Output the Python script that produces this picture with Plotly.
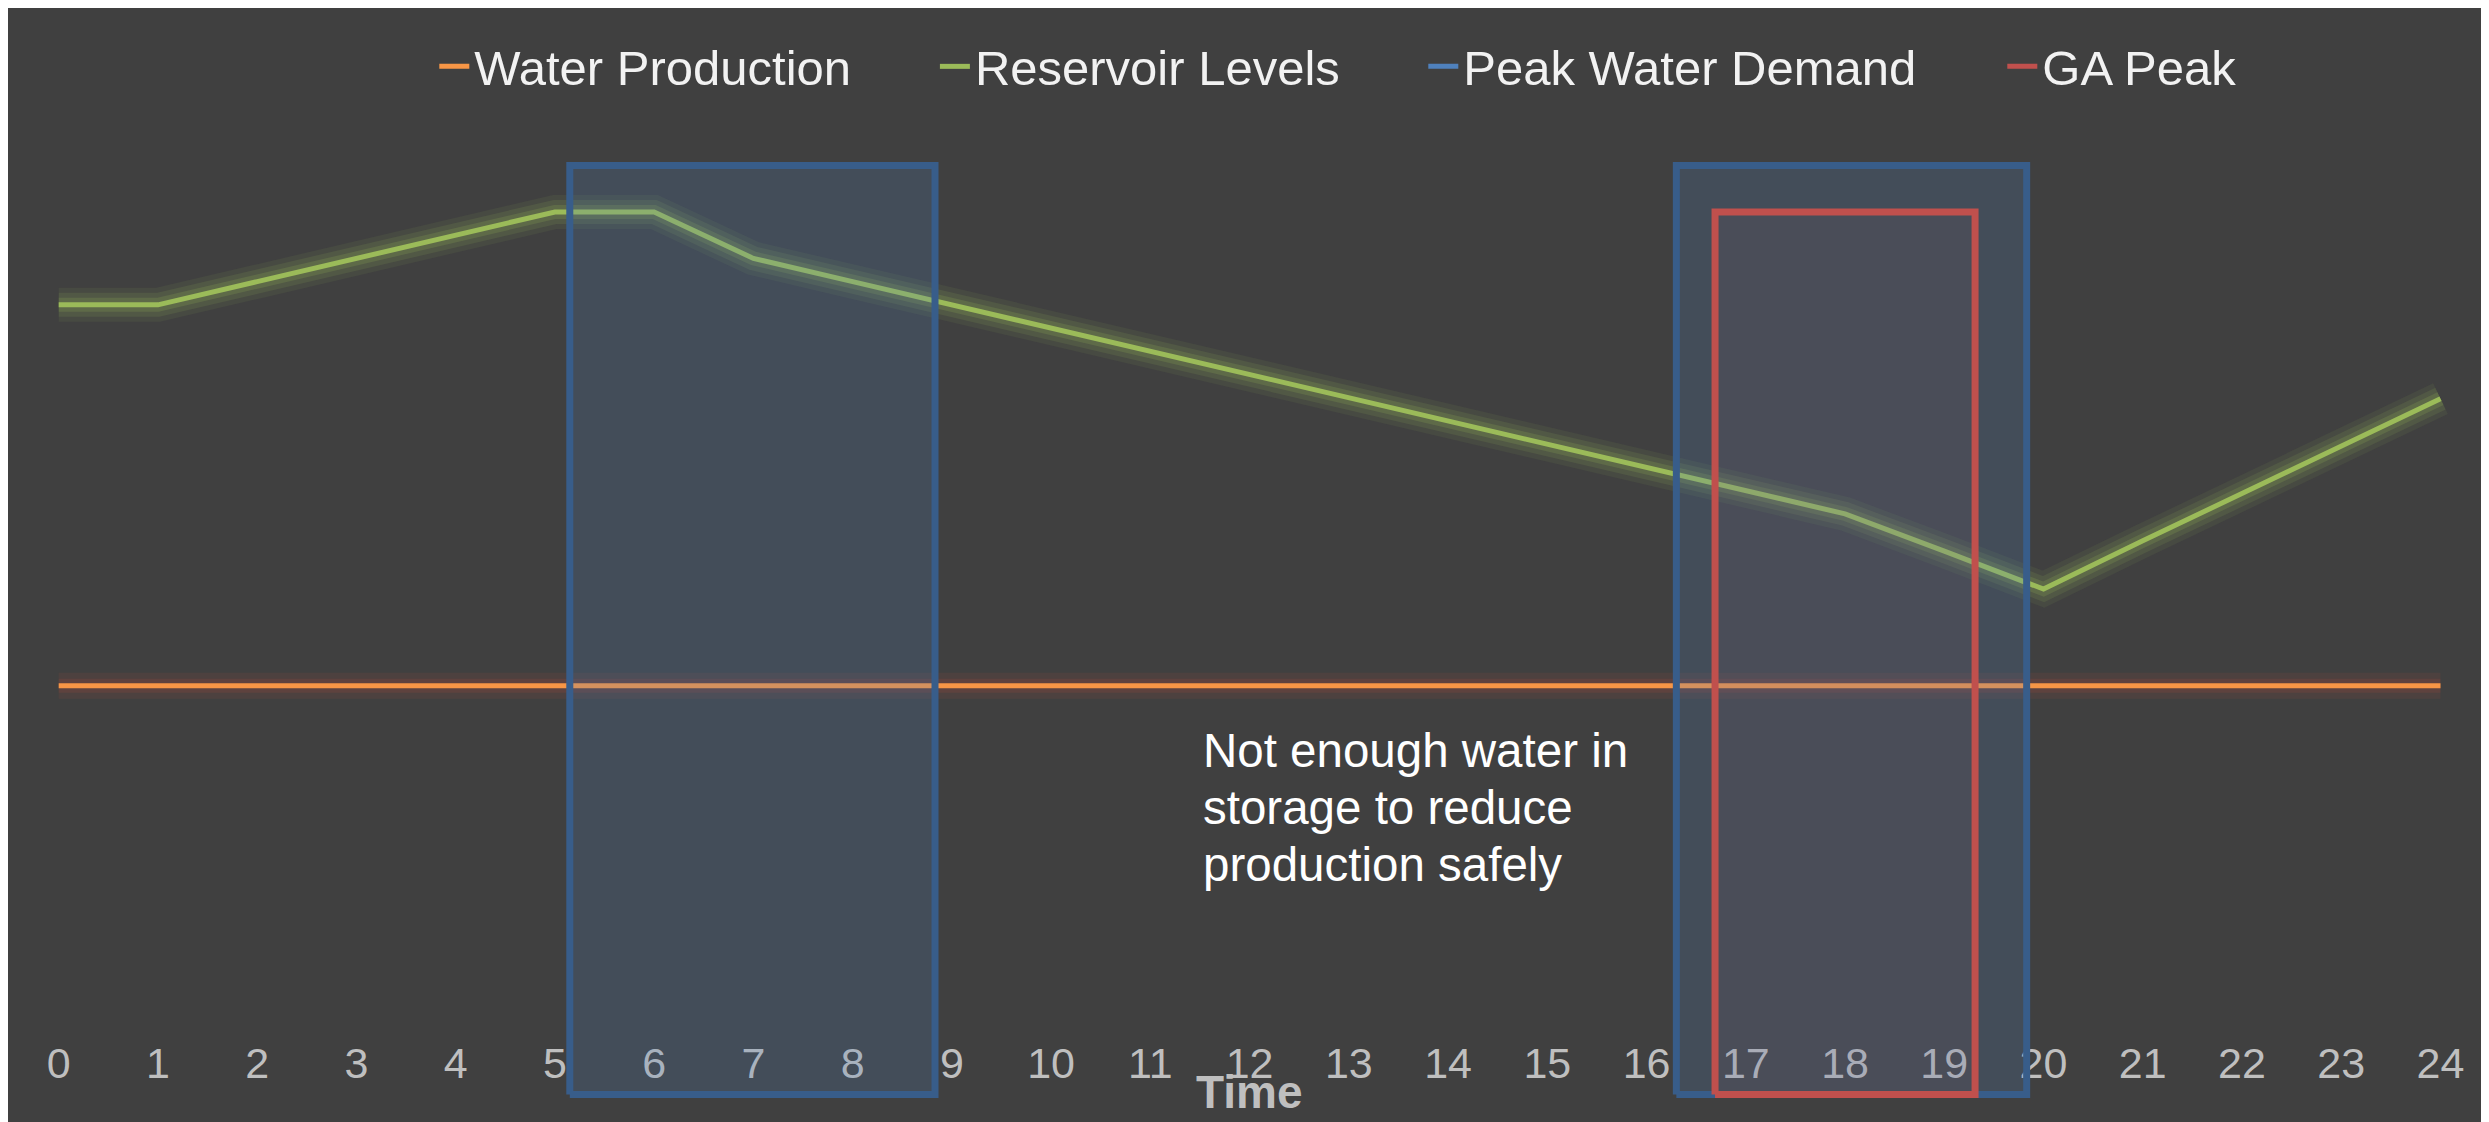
import plotly.graph_objects as go

# ---- data ----
hours = list(range(25))
tick_labels = [str(h) for h in hours]
water_production = [44, 44, 44, 44, 44, 44, 44, 44, 44, 44, 44, 44, 44,
                    44, 44, 44, 44, 44, 44, 44, 44, 44, 44, 44, 44]
reservoir_levels = [85, 85, 87.5, 90, 92.5, 95, 95, 90, 87.5, 85, 82.5, 80, 77.5,
                    75, 72.5, 70, 67.5, 65, 62.5, 58.5, 54.4, 59.6, 64.7, 69.8, 74.9]
peak_demand_start = [5.15, 16.30]
peak_demand_end = [8.83, 19.83]
peak_demand_height = [100, 100]
ga_peak_start = [16.69]
ga_peak_end = [19.31]
ga_peak_height = [95]
note_lines = ["Not enough water in", "storage to reduce", "production safely"]

# ---- styling ----
BG = "#404040"
FONT = "Liberation Sans, Arial, sans-serif"
ORANGE = "#f79646"
GREEN = "#9bbb59"
BLUE = "#4f81bd"
BLUE_EDGE = "#385d8a"
RED = "#c0504d"

OFF = 8  # page body margin
W, H = 2489, 1122
ML, MR, MT, MB = 10, 10, 10, 20
PW, PH = W - ML - MR, H - MT - MB

# page-pixel targets -> figure coordinates
X0_PAGE, X24_PAGE = 58.7, 2440.5
Y0_PAGE, Y100_PAGE = 1094.5, 165.5
px_per_hour = (X24_PAGE - X0_PAGE) / 24
px_per_unit = (Y0_PAGE - Y100_PAGE) / 100
x_min = -((X0_PAGE - OFF) - ML) / px_per_hour
x_max = x_min + PW / px_per_hour
y_min = -((H - MB) - (Y0_PAGE - OFF)) / px_per_unit
y_max = y_min + PH / px_per_unit

def xd(px_page):
    return (px_page - X0_PAGE) / px_per_hour

def yd(py_page):
    return (Y0_PAGE - py_page) / px_per_unit

fig = go.Figure()

# soft glow under lines
fig.add_trace(go.Scatter(x=hours, y=water_production, mode="lines",
                         line=dict(color="rgba(200,80,60,0.10)", width=26),
                         hoverinfo="skip", showlegend=False))
fig.add_trace(go.Scatter(x=hours, y=water_production, mode="lines",
                         line=dict(color="rgba(200,80,60,0.14)", width=14),
                         hoverinfo="skip", showlegend=False))
fig.add_trace(go.Scatter(x=hours, y=reservoir_levels, mode="lines",
                         line=dict(color="rgba(155,187,89,0.08)", width=34),
                         hoverinfo="skip", showlegend=False))
fig.add_trace(go.Scatter(x=hours, y=reservoir_levels, mode="lines",
                         line=dict(color="rgba(155,187,89,0.12)", width=24),
                         hoverinfo="skip", showlegend=False))
fig.add_trace(go.Scatter(x=hours, y=reservoir_levels, mode="lines",
                         line=dict(color="rgba(155,187,89,0.18)", width=14),
                         hoverinfo="skip", showlegend=False))

fig.add_trace(go.Scatter(x=hours, y=water_production, mode="lines", name="Water Production",
                         line=dict(color=ORANGE, width=5), legend="legend"))
fig.add_trace(go.Scatter(x=hours, y=reservoir_levels, mode="lines", name="Reservoir Levels",
                         line=dict(color=GREEN, width=5), legend="legend2"))

# peak rectangles (drawn over the lines)
for s, e, h in zip(peak_demand_start, peak_demand_end, peak_demand_height):
    fig.add_trace(go.Scatter(x=[s, s, e, e, s], y=[0, h, h, 0, 0], mode="lines",
                             fill="toself", fillcolor="rgba(79,129,189,0.2)",
                             line=dict(color=BLUE_EDGE, width=7),
                             hoverinfo="skip", showlegend=False))
for s, e, h in zip(ga_peak_start, ga_peak_end, ga_peak_height):
    fig.add_trace(go.Scatter(x=[s, s, e, e, s], y=[0, h, h, 0, 0], mode="lines",
                             fill="toself", fillcolor="rgba(192,80,77,0.06)",
                             line=dict(color=RED, width=7),
                             hoverinfo="skip", showlegend=False))

# legend entries
fig.add_trace(go.Scatter(x=[None], y=[None], mode="lines", name="Peak Water Demand",
                         line=dict(color=BLUE, width=5), legend="legend3"))
fig.add_trace(go.Scatter(x=[None], y=[None], mode="lines", name="GA Peak",
                         line=dict(color=RED, width=5), legend="legend4"))

def legend_cfg(text_left_page):
    return dict(orientation="h", x=(text_left_page - 41.7 - OFF - ML) / PW, xanchor="left",
                y=1 - (66.5 - OFF - MT) / PH, yanchor="middle",
                bgcolor="rgba(0,0,0,0)", borderwidth=0,
                font=dict(family=FONT, size=49, color="#f2f2f2"))

annotations = []
for i, line in enumerate(note_lines):
    center_page = 767 + i * 57.3 - 17
    annotations.append(dict(x=xd(1201), y=yd(center_page), xref="x", yref="y",
                            text=line, showarrow=False, xanchor="left", yanchor="middle",
                            align="left", font=dict(family=FONT, size=47.5, color="#ffffff")))
annotations.append(dict(x=12, y=yd(1091.5), xref="x", yref="y",
                        text="<b>Time</b>", showarrow=False, xanchor="center", yanchor="middle",
                        font=dict(family=FONT, size=46, color="#bfbfbf")))

fig.update_layout(
    width=W, height=H,
    margin=dict(l=ML, r=MR, t=MT, b=MB),
    paper_bgcolor=BG,
    plot_bgcolor=BG,
    legend=legend_cfg(476),
    legend2=legend_cfg(976.6),
    legend3=legend_cfg(1465),
    legend4=legend_cfg(2044),
    annotations=annotations,
    xaxis=dict(range=[x_min, x_max], tickmode="array", tickvals=hours, ticktext=tick_labels,
               ticklabelposition="inside", ticklabelstandoff=20, ticks="", showgrid=False,
               zeroline=False, showline=False, layer="below traces",
               tickfont=dict(family=FONT, size=43, color="#bfbfbf")),
    yaxis=dict(range=[y_min, y_max], visible=False, showgrid=False, zeroline=False),
)

fig.write_html("out.html")
